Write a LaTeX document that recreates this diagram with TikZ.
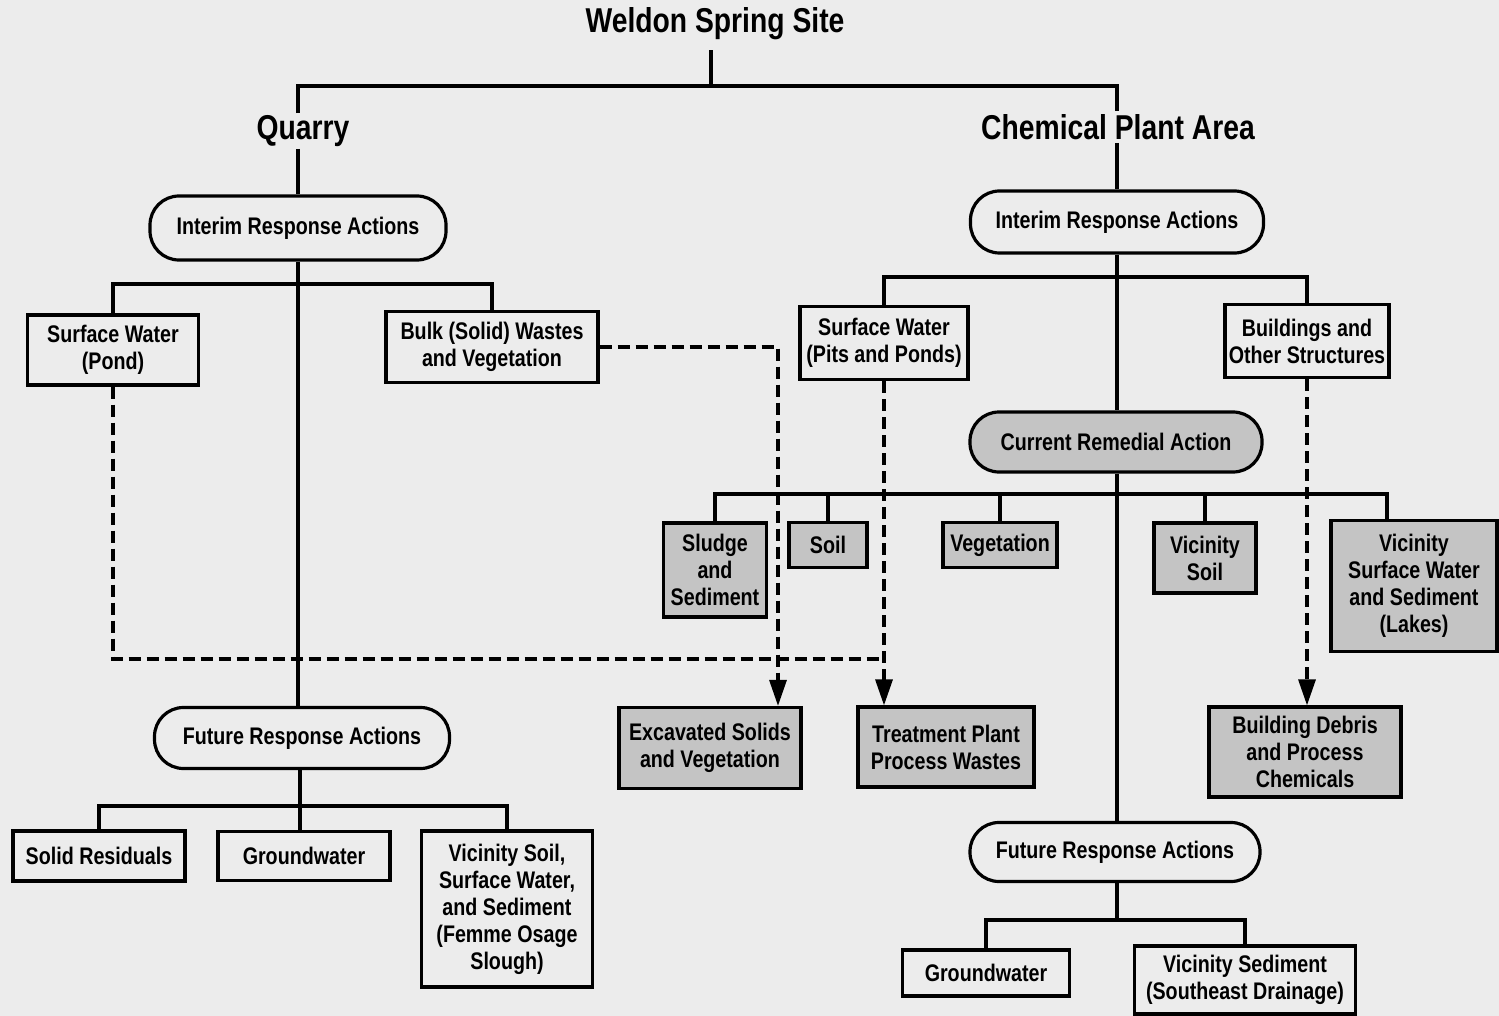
\documentclass[tikz,border=0pt]{standalone}
\usepackage{fontspec}
\setmainfont{Liberation Sans}
\newfontfamily\nar[FakeStretch=0.82]{Liberation Sans}
\usetikzlibrary{arrows.meta}
\definecolor{bg}{RGB}{236,236,236}
\definecolor{shade}{RGB}{196,196,196}
\begin{document}
\begin{tikzpicture}[x=1pt,y=-1pt,
  every node/.style={font=\nar\bfseries\fontsize{24}{27}\selectfont, inner sep=0pt, align=center},
  box/.style={draw, line width=3.2pt, rectangle},
  shadebox/.style={box, fill=shade},
  pill/.style={draw, line width=3.2pt, rectangle, rounded corners=29pt},
  head/.style={font=\nar\bfseries\fontsize{34.5}{38}\selectfont},
  conn/.style={line width=3.4pt},
  dline/.style={line width=3.2pt, dash pattern=on 12pt off 6pt},
  arr/.style={-{Triangle[length=26pt,width=17pt]}}
]
\fill[bg] (0,0) rectangle (1499,1016);
\useasboundingbox (0,0) rectangle (1499,1016);

% headings
\node[head, inner ysep=10pt] (wss) at (715,24) {Weldon Spring Site};
\node[head, inner ysep=2pt] (quarry) at (303,131) {Quarry};
\node[head, inner ysep=3pt] (cpa) at (1118,127) {Chemical Plant Area};
\coordinate (top) at (711,86);

% quarry side
\node[pill, minimum width=296pt, minimum height=64pt] (iraL) at (298,228) {Interim Response Actions};
\node[box, minimum width=171pt, minimum height=70pt] (swP) at (113,350) {Surface Water\\(Pond)};
\node[box, minimum width=212pt, minimum height=71pt] (bulk) at (492,347) {Bulk (Solid) Wastes\\and Vegetation};
\node[pill, minimum width=295pt, minimum height=61pt] (fraL) at (302,738) {Future Response Actions};
\node[box, minimum width=172pt, minimum height=50pt] (solid) at (99,856) {Solid Residuals};
\node[box, minimum width=172pt, minimum height=49pt] (gwL) at (304,856) {Groundwater};
\node[box, minimum width=171pt, minimum height=156pt] (vsoilL) at (507,909) {Vicinity Soil,\\Surface Water,\\and Sediment\\(Femme Osage\\Slough)};

% chemical plant side
\node[pill, minimum width=293pt, minimum height=62pt] (iraR) at (1117,222) {Interim Response Actions};
\node[box, minimum width=168pt, minimum height=73pt] (swPP) at (884,343) {Surface Water\\(Pits and Ponds)};
\node[box, minimum width=164pt, minimum height=73pt] (bld) at (1307,341) {Buildings and\\Other Structures};
\node[pill, fill=shade, minimum width=292pt, minimum height=60pt] (cra) at (1116,442) {Current Remedial Action};
\node[shadebox, minimum width=103pt, minimum height=94pt] (sludge) at (715,570) {Sludge\\and\\Sediment};
\node[shadebox, minimum width=78pt, minimum height=45pt] (soil) at (828,545) {Soil};
\node[shadebox, minimum width=114pt, minimum height=45pt] (veg) at (1000,545) {Vegetation};
\node[shadebox, minimum width=102pt, minimum height=70pt] (vsoil) at (1205,558) {Vicinity\\Soil};
\node[shadebox, minimum width=166pt, minimum height=131pt] (vsw) at (1414,586) {Vicinity\\Surface Water\\and Sediment\\(Lakes)};
\node[shadebox, minimum width=182pt, minimum height=81pt] (exc) at (710,748) {Excavated Solids\\and Vegetation};
\node[shadebox, minimum width=176pt, minimum height=80pt] (treat) at (946,747) {Treatment Plant\\Process Wastes};
\node[shadebox, minimum width=192pt, minimum height=90pt] (debris) at (1305,752) {Building Debris\\and Process\\Chemicals};
\node[pill, minimum width=290pt, minimum height=59pt] (fraR) at (1115,852) {Future Response Actions};
\node[box, minimum width=167pt, minimum height=46pt] (gwR) at (986,973) {Groundwater};
\node[box, minimum width=221pt, minimum height=68pt] (vsed) at (1245,980) {Vicinity Sediment\\(Southeast Drainage)};

% junction coordinates
\coordinate (jL) at (298,284);
\coordinate (jFL) at (300,806);
\coordinate (jR) at (1117,277);
\coordinate (jC) at (1117,494);
\coordinate (jF) at (1117,920);
\coordinate (vswtop) at (1387,521);
\coordinate (pondturn) at (113,659);

% top tree
\draw[conn] (wss.south -| top) -- (top);
\draw[conn] (quarry.north -| iraL.north) -- (iraL.north |- top) -- (iraR.north |- top) -- (cpa.north -| iraR.north);
\draw[conn] (quarry.south -| iraL.north) -- (iraL.north);
\draw[conn] (cpa.south -| iraR.north) -- (iraR.north);

% quarry connectors
\draw[conn] (iraL.south) -- (iraL.south |- fraL.north);
\draw[conn] (swP.north) |- (jL) -| (bulk.north);
\draw[conn] (fraL.south -| jFL) -- (jFL);
\draw[conn] (solid.north) |- (jFL) -| (vsoilL.north);
\draw[conn] (jFL) -- (jFL |- gwL.north);

% chemical plant connectors
\draw[conn] (iraR.south) -- (iraR.south |- cra.north);
\draw[conn] (swPP.north) |- (jR) -| (bld.north);
\draw[conn] (cra.south -| jC) -- (jF |- fraR.north);
\draw[conn] (sludge.north) |- (jC) -| (vswtop);
\draw[conn] (soil.north) -- (soil.north |- jC);
\draw[conn] (veg.north) -- (veg.north |- jC);
\draw[conn] (vsoil.north) -- (vsoil.north |- jC);
\draw[conn] (fraR.south -| jF) -- (jF);
\draw[conn] (gwR.north) |- (jF) -| (vsed.north);

% dashed flows
\draw[dline, arr] (bulk.east) -| ([xshift=68pt]exc.north);
\draw[dline, arr] (swPP.south) -- (swPP.south |- treat.north);
\draw[dline] (swP.south) -- (pondturn) -- (pondturn -| swPP.south);
\draw[dline, arr] (bld.south) -- (bld.south |- debris.north);
\end{tikzpicture}
\end{document}
